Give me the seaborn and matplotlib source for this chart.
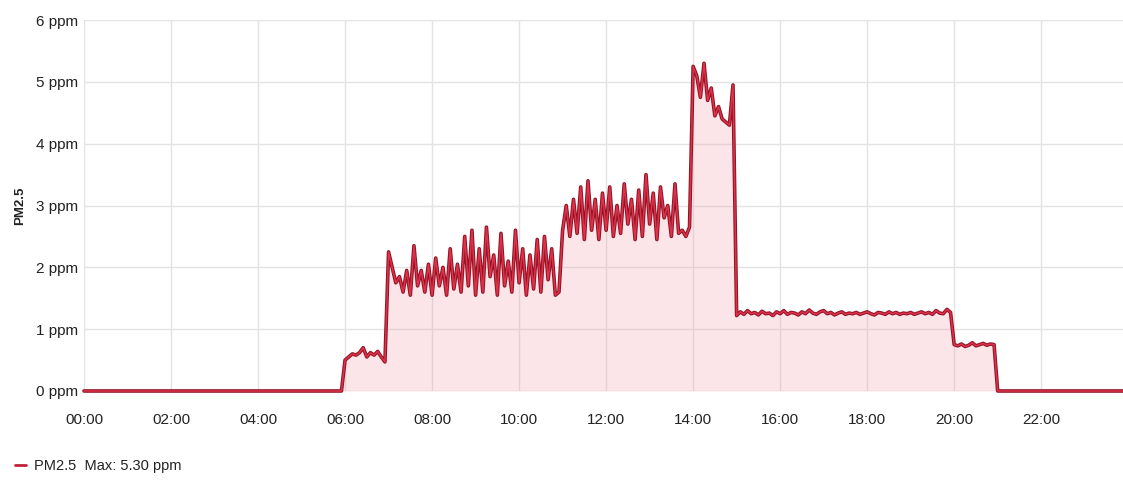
import numpy as np
import pandas as pd
import matplotlib
matplotlib.use("Agg")
import matplotlib.pyplot as plt
import seaborn as sns
from matplotlib.ticker import FuncFormatter
from matplotlib.lines import Line2D

# ---- data (5-minute samples, ppm) ----
night_early = [0.0] * 72                     # 00:00 - 05:55
morning_0600 = [0.5, 0.55, 0.6, 0.58, 0.62, 0.7, 0.55, 0.62, 0.58, 0.64, 0.55, 0.47]
morning_0700 = [2.25, 2.0, 1.75, 1.85, 1.6, 1.95, 1.55, 2.35, 1.7, 1.95, 1.6, 2.05,
                1.55, 2.15, 1.7, 2.0, 1.55, 2.3, 1.65, 2.05, 1.6, 2.5, 1.7, 2.6,
                1.55, 2.3, 1.6, 2.65, 1.85, 2.2, 1.55, 2.55, 1.7, 2.1, 1.6, 2.6,
                1.75, 2.3, 1.55, 2.2, 1.65, 2.45, 1.6, 2.5, 1.8, 2.3, 1.55, 1.6]
midday_1100 = [2.6, 3.0, 2.5, 3.1, 2.55, 3.3, 2.45, 3.4, 2.6, 3.1, 2.45, 3.2,
               2.6, 3.3, 2.5, 3.0, 2.55, 3.35, 2.7, 3.1, 2.45, 3.25, 2.5, 3.5,
               2.7, 3.2, 2.45, 3.3, 2.8, 3.0, 2.5, 3.35, 2.55, 2.6, 2.5, 2.65]
peak_1400 = [5.25, 5.1, 4.75, 5.3, 4.7, 4.9, 4.45, 4.6, 4.4, 4.35, 4.3, 4.95]
afternoon_1500 = [1.22, 1.28, 1.24, 1.3, 1.25, 1.27, 1.23, 1.29, 1.25, 1.26, 1.22, 1.28,
                  1.25, 1.3, 1.24, 1.27, 1.26, 1.23, 1.28, 1.25, 1.31, 1.26, 1.24, 1.28,
                  1.3, 1.25, 1.27, 1.23, 1.26, 1.28, 1.24, 1.26, 1.25, 1.27, 1.24, 1.26,
                  1.28, 1.25, 1.23, 1.27, 1.26, 1.24, 1.28, 1.25, 1.27, 1.24, 1.26, 1.25,
                  1.27, 1.24, 1.26, 1.28, 1.25, 1.27, 1.24, 1.3, 1.26, 1.25, 1.32, 1.27]
evening_2000 = [0.75, 0.73, 0.76, 0.72, 0.74, 0.78, 0.73, 0.75, 0.77, 0.74, 0.76, 0.75]
night_late = [0.0] * 36                      # 21:00 - 23:55

ppm = np.array(night_early + morning_0600 + morning_0700 + midday_1100 + peak_1400
               + afternoon_1500 + evening_2000 + night_late)
hours = np.arange(len(ppm)) * 5 / 60.0
df = pd.DataFrame({"hours": hours, "ppm": ppm})

series_name = "PM2.5"
max_label = "Max: 5.30 ppm"
x_ticks = np.arange(0, 24, 2)
y_ticks = np.arange(0, 7, 1)

# ---- style ----
sns.set_theme(style="white")
plt.rcParams["font.family"] = ["Liberation Sans Narrow", "Liberation Sans", "DejaVu Sans"]

fig = plt.figure(figsize=(11.23, 4.86), dpi=100)
ax = fig.add_axes([0.0748, 0.1955, 0.9252, 0.7633])

ax.fill_between(df["hours"], 0, df["ppm"], color="#f2a0aa", alpha=0.27, lw=0, zorder=1)
sns.lineplot(data=df, x="hours", y="ppm", ax=ax, color="#8e1526", lw=2.6,
             zorder=3, clip_on=False)
sns.lineplot(data=df, x="hours", y="ppm", ax=ax, color="#e0304a", lw=1.1,
             zorder=4, clip_on=False)

ax.set_xlim(0, 23.88)
ax.set_ylim(0, 6)
ax.set_xticks(x_ticks)
ax.set_yticks(y_ticks)
ax.xaxis.set_major_formatter(FuncFormatter(lambda v, p: f"{int(v):02d}:00"))
ax.yaxis.set_major_formatter(FuncFormatter(lambda v, p: f"{int(v)} ppm"))
ax.tick_params(axis="both", labelsize=11, colors="#222222", length=0, pad=4)
ax.tick_params(axis="x", pad=16)
ax.grid(True, color="#e3e3e3", lw=1.0, zorder=0)
ax.set_axisbelow(True)
for s in ax.spines.values():
    s.set_visible(False)

ax.set_xlabel("")
ax.set_ylabel(series_name, fontsize=9.5, color="#222222", labelpad=7,
              fontweight="bold")

handle = Line2D([0], [0], color="#c0213a", lw=2)
fig.legend([handle], [f"{series_name}  {max_label}"], loc="lower left",
           bbox_to_anchor=(0.002, 0.0), frameon=False, fontsize=10.5,
           handlelength=0.7, handletextpad=0.6, labelcolor="#222222")

fig.savefig("out.png", dpi=100, facecolor="white")
